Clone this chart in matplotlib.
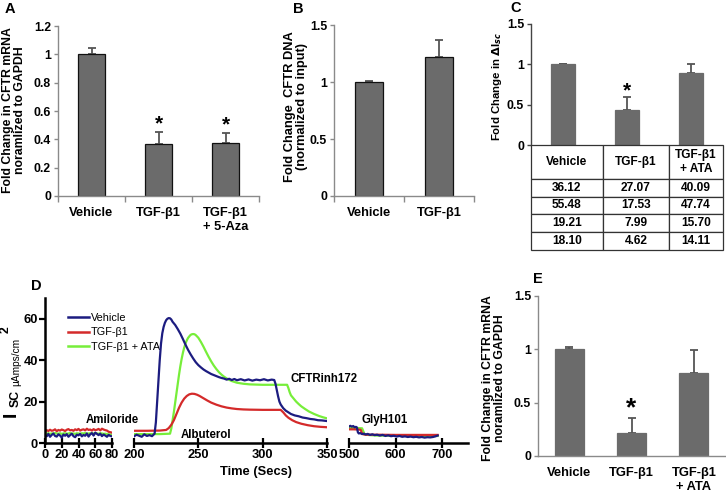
import numpy as np
import matplotlib
matplotlib.use("Agg")
import matplotlib.pyplot as plt
from matplotlib.lines import Line2D

plt.rcParams["font.family"] = ["Liberation Sans", "DejaVu Sans"]
plt.rcParams["font.weight"] = "bold"
plt.rcParams["axes.labelweight"] = "bold"

W, H = 726, 492

# ---- Panel A: CFTR mRNA ----
a_labels = ["Vehicle", "TGF-β1", "TGF-β1\n+ 5-Aza"]
a_means = [1.0, 0.365, 0.375]
a_errs = [0.045, 0.085, 0.07]
a_stars = [False, True, True]

# ---- Panel B: CFTR DNA ----
b_labels = ["Vehicle", "TGF-β1"]
b_means = [1.0, 1.22]
b_errs = [0.005, 0.15]

# ---- Panel C: delta Isc + table ----
c_means = [1.0, 0.43, 0.89]
c_errs = [0.005, 0.16, 0.11]
c_stars = [False, True, False]
c_table_cols = ["Vehicle", "TGF-β1", "TGF-β1\n+ ATA"]
c_table_rows = [["36.12", "27.07", "40.09"],
                ["55.48", "17.53", "47.74"],
                ["19.21", "7.99", "15.70"],
                ["18.10", "4.62", "14.11"]]

# ---- Panel E: CFTR mRNA with ATA ----
e_labels = ["Vehicle", "TGF-β1", "TGF-β1\n+ ATA"]
e_means = [1.0, 0.22, 0.78]
e_errs = [0.02, 0.14, 0.21]
e_stars = [False, True, False]

# ---- Panel D: Isc traces (three time windows) ----
seg1_t = [0, 2, 4, 6, 8, 10, 12, 14, 16, 18, 20, 22, 24, 26, 28, 30, 32, 34, 36, 38, 40,
          42, 44, 46, 48, 50, 52, 54, 56, 58, 60, 62, 64, 66, 68, 70, 72, 74, 76, 78, 80]
seg1_vehicle = [3.8, 3.2, 4.4, 3.0, 3.9, 4.6, 3.4, 3.1, 4.2, 3.6, 2.6, 4.1, 3.5, 4.3, 3.0,
                3.8, 4.5, 3.3, 2.8, 4.0, 3.7, 4.4, 3.2, 3.9, 3.5, 4.6, 3.1, 4.2, 4.8, 3.6,
                5.0, 4.4, 3.8, 4.5, 3.3, 4.1, 3.6, 3.0, 3.9, 3.4, 3.2]
seg1_tgf = [5.6, 6.2, 5.8, 6.4, 5.9, 6.1, 6.6, 5.7, 6.3, 6.0, 6.5, 6.2, 5.8, 6.4, 6.7, 6.1,
            6.3, 5.9, 6.6, 6.2, 6.8, 6.0, 6.4, 6.6, 6.1, 6.9, 6.3, 6.5, 6.0, 6.7, 6.2, 6.4,
            6.8, 6.1, 6.9, 6.5, 6.2, 6.0, 5.4, 5.2, 5.0]
seg1_ata = [4.6, 4.5, 4.7, 4.4, 4.6, 4.5, 4.8, 4.6, 4.5, 4.7, 4.4, 4.6, 4.7, 4.5, 4.6, 4.8,
            4.5, 4.6, 4.4, 4.7, 4.6, 4.5, 4.7, 4.6, 4.8, 4.5, 4.6, 4.7, 4.5, 4.6, 4.8, 4.6,
            4.5, 4.7, 4.6, 4.4, 4.5, 4.3, 4.2, 4.1, 4.0]

seg2_vehicle_t = [200, 202, 204, 206, 208, 210, 212, 214, 216, 217, 218, 219, 220, 221, 222,
                  223, 224, 225, 226, 227, 228, 229, 230, 232, 234, 236, 238, 240, 242, 244,
                  246, 248, 250, 252, 254, 256, 258, 260, 262, 264, 266, 268, 270, 272, 274,
                  276, 278, 280, 283, 286, 289, 292, 295, 298, 301, 304, 307, 309, 310, 311,
                  312, 313, 314, 316, 318, 320, 322, 325, 328, 331, 334, 337, 340, 343, 346,
                  350]
seg2_vehicle = [3.2, 4.0, 3.5, 3.0, 4.2, 3.4, 3.8, 3.3, 4.5, 10.0, 20.0, 30.0, 40.0, 48.0,
                53.0, 56.0, 58.0, 59.3, 60.0, 60.3, 60.2, 59.6, 58.5, 57.0, 55.0, 52.8, 50.2,
                47.5, 45.0, 42.8, 40.8, 39.0, 37.6, 36.5, 35.5, 34.7, 34.0, 33.3, 32.8, 32.3,
                31.8, 31.4, 31.1, 30.6, 31.0, 30.4, 30.9, 30.3, 30.8, 30.2, 30.7, 30.1, 30.6,
                30.3, 30.8, 30.2, 30.6, 30.4, 28.5, 25.5, 22.5, 20.0, 18.6, 16.8, 15.6, 14.8,
                14.0, 13.3, 12.9, 12.3, 12.0, 11.6, 11.4, 11.0, 10.9, 10.6]
seg2_tgf_t = [200, 210, 220, 225, 227, 229, 231, 233, 235, 237, 239, 241, 243, 245, 247, 249,
              251, 254, 257, 260, 264, 268, 272, 276, 280, 285, 290, 300, 310, 314, 316, 318,
              320, 323, 326, 330, 335, 340, 345, 350]
seg2_tgf = [5.9, 5.9, 6.0, 6.3, 7.2, 8.8, 11.0, 14.0, 17.0, 19.5, 21.4, 22.7, 23.5, 23.8,
            23.7, 23.3, 22.7, 21.6, 20.5, 19.5, 18.5, 17.7, 17.1, 16.7, 16.4, 16.2, 16.1, 16.0,
            16.0, 16.0, 14.8, 13.3, 12.2, 11.0, 10.1, 9.3, 8.6, 8.1, 7.8, 7.6]
seg2_ata_t = [200, 210, 220, 228, 229, 230, 231, 232, 233, 234, 235, 236, 237, 238, 239, 240,
              241, 242, 243, 244, 245, 246, 247, 248, 250, 252, 254, 256, 258, 260, 262, 264,
              266, 268, 270, 273, 276, 280, 285, 290, 295, 300, 305, 310, 315, 319, 320, 321,
              322, 324, 326, 328, 330, 333, 336, 340, 344, 347, 350]
seg2_ata = [4.3, 4.3, 4.3, 4.5, 7.0, 11.0, 15.0, 19.5, 24.0, 28.5, 33.0, 37.0, 40.5, 43.5,
            46.0, 48.0, 49.5, 50.7, 51.5, 52.2, 52.5, 52.6, 52.5, 52.1, 50.8, 48.8, 46.5, 44.0,
            41.6, 39.4, 37.4, 35.7, 34.2, 33.0, 32.0, 30.8, 29.9, 29.1, 28.6, 28.3, 28.2, 28.1,
            28.1, 28.1, 28.1, 28.1, 26.5, 24.5, 23.0, 21.5, 20.0, 18.8, 17.7, 16.4, 15.2, 14.0,
            13.0, 12.4, 11.9]

seg3_vehicle_t = [500, 503, 506, 509, 512, 515, 517, 519, 521, 524, 528, 532, 536, 540, 545,
                  550, 555, 560, 566, 572, 578, 584, 590, 596, 602, 608, 614, 620, 626, 632,
                  638, 644, 650, 656, 662, 668, 674, 680, 685, 690]
seg3_vehicle = [8.0, 8.3, 7.9, 8.2, 7.6, 7.8, 7.5, 5.2, 4.6, 4.8, 4.3, 4.5, 4.1, 4.4, 3.9,
                4.2, 3.8, 4.0, 3.6, 3.9, 3.4, 3.7, 3.3, 3.5, 3.1, 3.4, 3.0, 3.2, 2.9, 3.1,
                2.8, 3.0, 2.7, 2.9, 2.6, 2.8, 2.7, 2.9, 3.2, 3.6]
seg3_tgf_t = [500, 510, 520, 525, 527, 529, 532, 540, 560, 600, 640, 690]
seg3_tgf = [6.6, 6.6, 6.5, 6.4, 5.2, 4.4, 4.1, 4.0, 4.0, 3.9, 3.9, 3.9]
seg3_ata_t = [500, 510, 520, 528, 531, 533, 536, 545, 560, 600, 640, 690]
seg3_ata = [7.3, 7.2, 7.2, 7.1, 5.5, 4.3, 4.0, 3.8, 3.6, 3.5, 3.4, 3.4]

d_names = ["Vehicle", "TGF-β1", "TGF-β1 + ATA"]
d_colors = ["#1c1c80", "#d42a2a", "#77ee3a"]

BAR_GRAY = "#6b6b6b"
AXIS_GRAY = "#8a8a8a"
TICK_SIZE = 8.8


def px_axes(fig, x0, y0, x1, y1):
    """Add axes from pixel box (top-left origin)."""
    return fig.add_axes([x0 / W, 1 - y1 / H, (x1 - x0) / W, (y1 - y0) / H])


def bar_panel(ax, means, errs, ymax, ystep, width, edge, spine_color, labels=None,
              cat_ticks=True):
    n = len(means)
    x = np.arange(n) + 0.5
    ax.bar(x, means, width, color=BAR_GRAY, edgecolor=edge, linewidth=0.9, zorder=2)
    ax.errorbar(x, means, yerr=[np.zeros(n), errs], fmt="none", ecolor="#555555",
                elinewidth=1.3, capsize=3.2, capthick=1.3, zorder=1)
    ax.set_xlim(0, n)
    ax.set_ylim(0, ymax)
    yt = np.arange(0, ymax + 1e-9, ystep)
    ax.set_yticks(yt)
    ax.set_yticklabels([f"{v:g}" for v in yt], fontsize=TICK_SIZE, fontweight="bold")
    for s in ["top", "right"]:
        ax.spines[s].set_visible(False)
    for s in ["left", "bottom"]:
        ax.spines[s].set_color(spine_color)
        ax.spines[s].set_linewidth(1.0)
    ax.tick_params(axis="y", direction="out", length=3, width=1, color=spine_color, pad=2)
    if cat_ticks:
        ax.set_xticks(np.arange(n + 1))
        ax.tick_params(axis="x", which="major", direction="out", length=4, width=1,
                       color=spine_color, labelbottom=False)
    else:
        ax.set_xticks([])
    if labels is not None:
        ax.set_xticks(x, minor=True)
        ax.set_xticklabels(labels, minor=True, fontsize=9.3, fontweight="bold")
        ax.tick_params(axis="x", which="minor", length=0, pad=8)
    return x


def add_stars(ax, x, means, errs, flags, size, dy):
    for xi, m, e, f in zip(x, means, errs, flags):
        if f:
            ax.annotate("*", (xi, m + e), xytext=(0, dy), textcoords="offset points",
                        ha="center", va="baseline", fontsize=size, fontweight="bold")


fig = plt.figure(figsize=(W / 100, H / 100), dpi=100)

# Panel A
axA = px_axes(fig, 58, 26, 259, 196)
xa = bar_panel(axA, a_means, a_errs, 1.2, 0.2, 0.4, "#111111", AXIS_GRAY, a_labels)
add_stars(axA, xa, a_means, a_errs, a_stars, 15, 2)
fig.text(14 / W, 1 - 110 / H, "Fold Change in CFTR mRNA\nnoramlized to GAPDH",
         rotation=90, ha="center", va="center", fontsize=8.8, linespacing=1.1)
fig.text(10 / W, 1 - 9 / H, "A", fontsize=10.5, ha="center", va="center")

# Panel B
axB = px_axes(fig, 334, 25, 474, 196)
bar_panel(axB, b_means, b_errs, 1.5, 0.5, 0.41, "#111111", AXIS_GRAY, b_labels)
fig.text(296 / W, 1 - 107 / H, "Fold Change  CFTR DNA\n(normalized to input)",
         rotation=90, ha="center", va="center", fontsize=9.3, linespacing=1.1)
fig.text(298 / W, 1 - 9 / H, "B", fontsize=10.5, ha="center", va="center")

# Panel C
axC = px_axes(fig, 531, 24, 723, 145)
xc = bar_panel(axC, c_means, c_errs, 1.5, 0.5, 0.37, BAR_GRAY, "#444444", None,
               cat_ticks=False)
axC.spines["bottom"].set_visible(False)
add_stars(axC, xc, c_means, c_errs, c_stars, 15, 1)
fig.text(497 / W, 1 - 87 / H, r"Fold Change in $\Delta\mathregular{I}_{sc}$", rotation=90,
         ha="center", va="center", fontsize=8.2)
fig.text(516 / W, 1 - 8 / H, "C", fontsize=10.5, ha="center", va="center")

tax = px_axes(fig, 531, 145, 723, 250)
tax.axis("off")
tbl = tax.table(cellText=c_table_rows, colLabels=c_table_cols, colWidths=[72, 66, 54],
                cellLoc="center", bbox=[0, 0, 1, 1])
tbl.auto_set_font_size(False)
tbl.set_fontsize(8.6)
for (r, c), cell in tbl.get_celld().items():
    cell.set_height(34 if r == 0 else 18)
    cell.set_linewidth(0.9)
    cell.set_edgecolor("#333333")
    cell.get_text().set_fontweight("bold")

# Panel E
axE = px_axes(fig, 538, 296, 725, 456)
xe = bar_panel(axE, e_means, e_errs, 1.5, 0.5, 0.47, BAR_GRAY, AXIS_GRAY, e_labels,
               cat_ticks=False)
add_stars(axE, xe, e_means, e_errs, e_stars, 19, 2)
fig.text(494 / W, 1 - 378 / H, "Fold Change in CFTR mRNA\nnoramlized to GAPDH",
         rotation=90, ha="center", va="center", fontsize=8.8, linespacing=1.1)
fig.text(538 / W, 1 - 279 / H, "E", fontsize=10.5, ha="center", va="center")

# Panel D
d1 = px_axes(fig, 45, 298, 112, 443)
d2 = px_axes(fig, 134, 298, 327, 443)
d3 = px_axes(fig, 349, 298, 468, 443)
segments = [
    (d1, (0, 80), [0, 20, 40, 60, 80],
     [(seg1_t, seg1_ata), (seg1_t, seg1_tgf), (seg1_t, seg1_vehicle)]),
    (d2, (200, 350), [200, 250, 300, 350],
     [(seg2_ata_t, seg2_ata), (seg2_tgf_t, seg2_tgf), (seg2_vehicle_t, seg2_vehicle)]),
    (d3, (500, 755), [500, 600, 700],
     [(seg3_ata_t, seg3_ata), (seg3_tgf_t, seg3_tgf), (seg3_vehicle_t, seg3_vehicle)]),
]
trace_colors = [d_colors[2], d_colors[1], d_colors[0]]
for ax, xlim, xt, traces in segments:
    for (t, v), col in zip(traces, trace_colors):
        ax.plot(t, v, color=col, linewidth=1.6)
    ax.set_xlim(*xlim)
    ax.set_ylim(0, 70)
    ax.set_xticks(xt)
    ax.set_xticklabels([str(v) for v in xt], fontsize=9.3, fontweight="bold")
    ax.tick_params(axis="x", direction="inout", length=7, width=1.6, pad=1)
    for s in ["top", "right", "left"]:
        ax.spines[s].set_visible(False)
    ax.spines["bottom"].set_linewidth(1.8)
    ax.set_yticks([])
    ax.patch.set_visible(False)

d1.spines["left"].set_visible(True)
d1.spines["left"].set_linewidth(1.8)
d1.set_yticks([0, 20, 40, 60])
d1.set_yticklabels(["0", "20", "40", "60"], fontsize=9.3, fontweight="bold")
d1.tick_params(axis="y", direction="out", length=4, width=1.6, pad=1)

handles = [Line2D([], [], color=c, linewidth=1.8) for c in d_colors]
d1.legend(handles, d_names, loc="upper left", bbox_to_anchor=(68 / W, 1 - 313 / H),
          bbox_transform=fig.transFigure, frameon=False, handlelength=1.9,
          handletextpad=0.2, labelspacing=0.4, borderpad=0, borderaxespad=0,
          prop={"size": 7.8, "weight": "normal"})

fig.text(112 / W, 1 - 420 / H, "Amiloride", fontsize=8.3, ha="center", va="center")
fig.text(206 / W, 1 - 435 / H, "Albuterol", fontsize=8.3, ha="center", va="center")
fig.text(324 / W, 1 - 379 / H, "CFTRinh172", fontsize=8.3, ha="center", va="center")
fig.text(385 / W, 1 - 420 / H, "GlyH101", fontsize=8.3, ha="center", va="center")
fig.text(256 / W, 1 - 472 / H, "Time (Secs)", fontsize=9.3, ha="center", va="center")

# y label of D built from pieces: I_SC  µAmps/cm^2
fig.text(11 / W, 1 - 414 / H, "I", fontsize=14, rotation=90, ha="center", va="center")
fig.text(16 / W, 1 - 398 / H, "SC", fontsize=8.8, rotation=90, ha="center", va="center")
fig.text(16 / W, 1 - 362 / H, "µAmps/cm", fontsize=7.3, rotation=90, ha="center",
         va="center", fontweight="normal")
fig.text(6 / W, 1 - 330 / H, "2", fontsize=8.8, rotation=90, ha="center", va="center")
fig.text(36 / W, 1 - 286 / H, "D", fontsize=10.5, ha="center", va="center")

fig.savefig("out.png", dpi=100)
